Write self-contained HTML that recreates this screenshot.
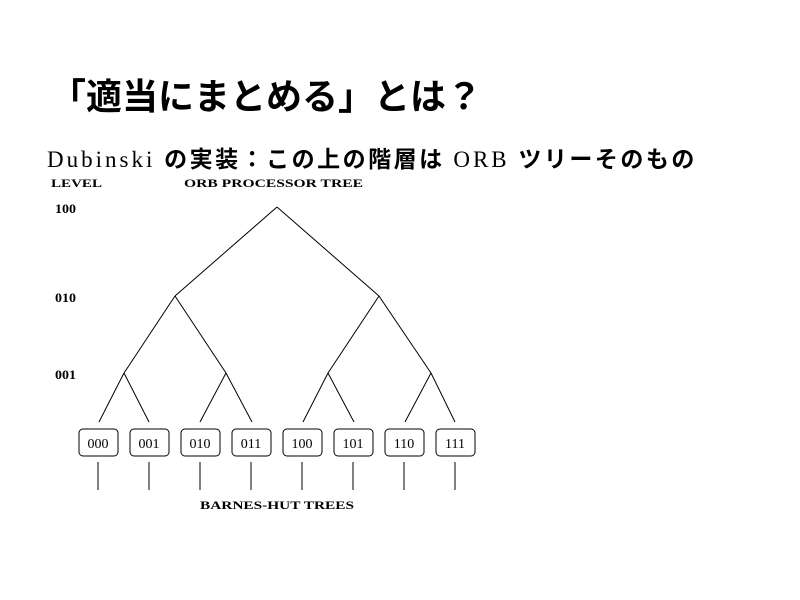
<!DOCTYPE html>
<html><head><meta charset="utf-8"><style>
body{margin:0;width:800px;height:600px;background:#fff;position:relative;overflow:hidden}
.t{position:absolute;white-space:nowrap;color:#000}
</style></head><body>
<div class="t" style="left:50px;top:68px;font-size:36px;font-weight:bold;font-family:'Liberation Sans','Noto Sans CJK JP',sans-serif;">「適当にまとめる」とは？</div>
<div class="t" style="left:47px;top:140px;font-size:23px;letter-spacing:3px;font-family:'Liberation Serif','Noto Sans CJK JP',serif;">Dubinski <span style="font-family:'Noto Sans CJK JP',sans-serif;font-weight:bold;letter-spacing:2.5px">の実装：この上の階層は</span> ORB <span style="font-family:'Noto Sans CJK JP',sans-serif;font-weight:bold;letter-spacing:2.5px">ツリーそのもの</span></div>
<svg width="800" height="600" style="position:absolute;left:0;top:0" font-family="Liberation Serif, serif">
<g font-size="12" font-weight="bold">
<text x="51" y="187" textLength="51" lengthAdjust="spacingAndGlyphs">LEVEL</text>
<text x="184" y="187" textLength="179" lengthAdjust="spacingAndGlyphs">ORB  PROCESSOR TREE</text>
<text x="55" y="213" font-size="13" textLength="21" lengthAdjust="spacingAndGlyphs">100</text>
<text x="55" y="302" font-size="13" textLength="21" lengthAdjust="spacingAndGlyphs">010</text>
<text x="55" y="379" font-size="13" textLength="21" lengthAdjust="spacingAndGlyphs">001</text>
<text x="200" y="509" textLength="154" lengthAdjust="spacingAndGlyphs">BARNES-HUT TREES</text>
</g>
<g stroke="#000" stroke-width="1" fill="none">
<path d="M277 207L175 296M277 207L379 296"/>
<path d="M175 296L124 373M175 296L226 373M379 296L328 373M379 296L431 373"/>
<path d="M124 373L99 422M124 373L149 422M226 373L200 422M226 373L252 422M328 373L303 422M328 373L354 422M431 373L405 422M431 373L455 422"/>
</g>
<g font-size="14" text-anchor="middle">
<g stroke="#000" fill="none">
<rect x="79" y="429" width="39" height="27" rx="4"/><rect x="130" y="429" width="39" height="27" rx="4"/>
<rect x="181" y="429" width="39" height="27" rx="4"/><rect x="232" y="429" width="39" height="27" rx="4"/>
<rect x="283" y="429" width="39" height="27" rx="4"/><rect x="334" y="429" width="39" height="27" rx="4"/>
<rect x="385" y="429" width="39" height="27" rx="4"/><rect x="436" y="429" width="39" height="27" rx="4"/>
<path d="M98 462V490M149 462V490M200 462V490M251 462V490M302 462V490M353 462V490M404 462V490M455 462V490"/>
</g>
<text x="98" y="448">000</text><text x="149" y="448">001</text><text x="200" y="448">010</text><text x="251" y="448">011</text>
<text x="302" y="448">100</text><text x="353" y="448">101</text><text x="404" y="448">110</text><text x="455" y="448">111</text>
</g>
</svg>
</body></html>
